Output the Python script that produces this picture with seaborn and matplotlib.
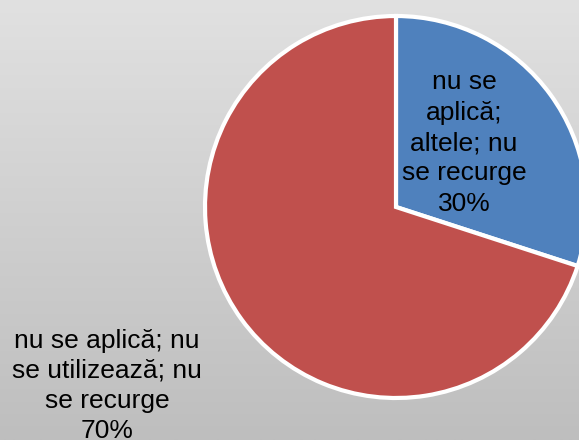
import numpy as np
import matplotlib
matplotlib.use("Agg")
import matplotlib.pyplot as plt
import seaborn as sns

# Data
categories = ["nu se\naplică;\naltele; nu\nse recurge",
              "nu se aplică; nu\nse utilizează; nu\nse recurge"]
values = [30, 70]
colors = ["#4F81BD", "#C0504D"]

sns.set_theme(style="white")
plt.rcParams['font.family'] = ['Liberation Sans', 'DejaVu Sans']

W, H = 579, 440
fig = plt.figure(figsize=(W / 100, H / 100), dpi=100)

# gradient background
bg = fig.add_axes([0, 0, 1, 1])
grad = np.linspace(225, 190, 256).reshape(-1, 1) / 255.0
bg.imshow(np.dstack([grad, grad, grad]), aspect='auto', extent=[0, 1, 0, 1])
bg.set_axis_off()

ax = fig.add_axes([0, 0, 1, 1])
ax.patch.set_alpha(0)

total = sum(values)
ax.pie(values, colors=colors, startangle=90, counterclock=False,
       center=(396, H - 207), radius=191,
       wedgeprops=dict(edgecolor='white', linewidth=3))
ax.set_xlim(0, W)
ax.set_ylim(0, H)
ax.set_aspect('equal')
ax.set_axis_off()

label_pos = [(464, H - 143), (107, H - 386)]
for cat, v, (x, y) in zip(categories, values, label_pos):
    ax.text(x, y, f"{cat}\n{round(100 * v / total)}%", ha='center', va='center',
            fontsize=19, color='black', linespacing=1.33)

fig.savefig("out.png", dpi=100)
